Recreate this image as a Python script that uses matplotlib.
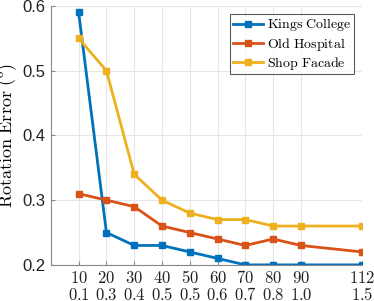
import matplotlib
matplotlib.use("Agg")
import matplotlib.pyplot as plt

plt.rcParams['mathtext.fontset'] = 'cm'

x = [10, 20, 30, 40, 50, 60, 70, 80, 90, 112]
row2 = ['0.1', '0.3', '0.4', '0.5', '0.5', '0.6', '0.7', '0.8', '1.0', '1.5']
kings = [0.59, 0.25, 0.23, 0.23, 0.22, 0.21, 0.20, 0.20, 0.20, 0.20]
hospital = [0.31, 0.30, 0.29, 0.26, 0.25, 0.24, 0.23, 0.24, 0.23, 0.22]
shop = [0.55, 0.50, 0.34, 0.30, 0.28, 0.27, 0.27, 0.26, 0.26, 0.26]
names = ['Kings College', 'Old Hospital', 'Shop Facade']
colors = ['#0072BD', '#D95319', '#EDB120']
yticks = [0.2, 0.3, 0.4, 0.5, 0.6]

def cm(s):
    return r'$\mathrm{' + s.replace(' ', r'\ ') + '}$'

fig = plt.figure(figsize=(3.74, 3.01), dpi=100)
ax = fig.add_axes([0.136, 0.12, 0.832, 0.86])

for series, name, c in zip([kings, hospital, shop], names, colors):
    ax.plot(x, series, '-s', color=c, lw=2, markersize=5, label=cm(name))

ax.set_xlim(0, 112)
ax.set_ylim(0.2, 0.6)
ax.set_xticks(x)
ax.set_xticklabels([cm(str(v)) for v in x], fontsize=12)
ax.set_yticks(yticks)
ax.set_yticklabels(['%.1f' % v for v in yticks], fontsize=12, family='Liberation Sans')
ax.set_ylabel(r'$\mathrm{Rotation\ Error\ (^o)}$', fontsize=13, labelpad=2)

sec = ax.secondary_xaxis('bottom')
sec.set_xticks(x)
sec.set_xticklabels([cm(r) for r in row2], fontsize=12)
sec.tick_params(length=0, pad=15, colors='#222222')
sec.spines['bottom'].set_visible(False)

ax.grid(True, color='#e6e6e6', lw=0.8)
ax.set_axisbelow(True)
for s in ['top', 'right']:
    ax.spines[s].set_visible(False)
for s in ['left', 'bottom']:
    ax.spines[s].set_color('#888888')
    ax.spines[s].set_linewidth(0.8)
ax.tick_params(axis='both', direction='in', length=3, width=0.8, color='#888888',
               labelcolor='#222222')
ax.tick_params(axis='x', pad=3)
ax.tick_params(axis='y', pad=4)

leg = ax.legend(loc='upper right', fontsize=10, frameon=True, fancybox=False,
                edgecolor='#333333', handlelength=2.2, handletextpad=0.3,
                borderpad=0.2, labelspacing=0.15, borderaxespad=0.55)
leg.get_frame().set_linewidth(0.8)

fig.savefig('out.png', dpi=100)
